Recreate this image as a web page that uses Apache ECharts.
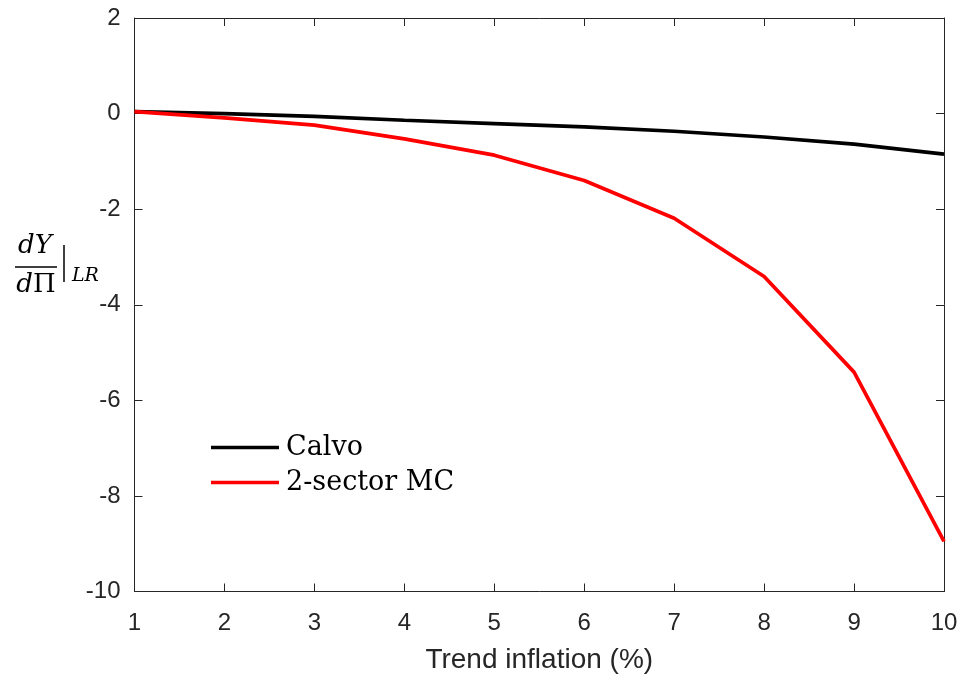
<!DOCTYPE html>
<html><head><meta charset="utf-8">
<script src="https://cdn.jsdelivr.net/npm/echarts@6/dist/echarts.min.js"></script>
<style>html,body{margin:0;padding:0;background:#fff}#c{width:963px;height:684px}</style>
</head><body><div id="c"></div>
<script>
const xValues = [1, 2, 3, 4, 5, 6, 7, 8, 9, 10];
const calvo = [0.04, 0.0, -0.06, -0.14, -0.21, -0.28, -0.37, -0.49, -0.64, -0.85];
const twoSector = [0.04, -0.09, -0.24, -0.53, -0.87, -1.40, -2.19, -3.41, -5.41, -8.95];
const seriesNames = ['Calvo', '2-sector MC'];
const xTitle = 'Trend inflation (%)';

const chart = echarts.init(document.getElementById('c'), null, {renderer: 'canvas'});
const axisCol = '#262626';
const tickFont = {color: axisCol, fontFamily: 'Liberation Sans, Arial, sans-serif', fontSize: 24};
const toPairs = arr => xValues.map((x, i) => [x, arr[i]]);
chart.setOption({
  animation: false,
  grid: {left: 134.5, right: 19, top: 18, bottom: 92.5},
  legend: {
    orient: 'vertical', left: 206, top: 429, itemGap: 8,
    itemWidth: 68, itemHeight: 3.5, icon: 'rect',
    textStyle: {fontFamily: 'DejaVu Serif, serif', fontSize: 27, color: '#000', padding: [0, 0, 0, 2]},
    data: seriesNames
  },
  xAxis: [{
    type: 'value', min: 1, max: 10, interval: 1, position: 'bottom',
    name: xTitle, nameLocation: 'middle', nameGap: 55,
    nameTextStyle: {color: axisCol, fontFamily: 'Liberation Sans, Arial, sans-serif', fontSize: 28},
    axisLine: {onZero: false, lineStyle: {color: axisCol, width: 1}},
    axisTick: {inside: true, length: 8, lineStyle: {color: axisCol}},
    axisLabel: Object.assign({margin: 20}, tickFont),
    splitLine: {show: false}
  }, {
    type: 'value', min: 1, max: 10, interval: 1, position: 'top',
    axisLine: {onZero: false, lineStyle: {color: axisCol, width: 1}},
    axisTick: {inside: true, length: 8, lineStyle: {color: axisCol}},
    axisLabel: {show: false}, splitLine: {show: false}
  }],
  yAxis: [{
    type: 'value', min: -10, max: 2, interval: 2, position: 'left',
    axisLine: {show: true, onZero: false, lineStyle: {color: axisCol, width: 1}},
    axisTick: {show: true, inside: true, length: 8, lineStyle: {color: axisCol}},
    axisLabel: Object.assign({margin: 14}, tickFont),
    splitLine: {show: false}
  }, {
    type: 'value', min: -10, max: 2, interval: 2, position: 'right',
    axisLine: {show: true, onZero: false, lineStyle: {color: axisCol, width: 1}},
    axisTick: {show: true, inside: true, length: 8, lineStyle: {color: axisCol}},
    axisLabel: {show: false}, splitLine: {show: false}
  }],
  series: [
    {name: seriesNames[0], type: 'line', data: toPairs(calvo), symbol: 'none',
     lineStyle: {color: '#000', width: 3.7}, itemStyle: {color: '#000'}},
    {name: seriesNames[1], type: 'line', data: toPairs(twoSector), symbol: 'none',
     lineStyle: {color: '#ff0000', width: 3.7}, itemStyle: {color: '#ff0000'}}
  ],
  graphic: [
    {type: 'text', x: 35, y: 246, style: {text: 'dY', font: 'italic 26px "DejaVu Serif", serif', fill: '#000', align: 'center', verticalAlign: 'middle'}},
    {type: 'line', shape: {x1: 15, y1: 267, x2: 57, y2: 267}, style: {stroke: '#000', lineWidth: 1.5}},
    {type: 'text', x: 36, y: 285, style: {
      text: '{i|d}{n|Π}', align: 'center', verticalAlign: 'middle', fill: '#000',
      rich: {i: {font: 'italic 26px "DejaVu Serif", serif'}, n: {font: '26px "DejaVu Serif", serif'}}
    }},
    {type: 'line', shape: {x1: 64, y1: 245, x2: 64, y2: 282}, style: {stroke: '#000', lineWidth: 1.5}},
    {type: 'text', x: 72, y: 276, style: {text: 'LR', font: 'italic 19px "DejaVu Serif", serif', fill: '#000', align: 'left', verticalAlign: 'middle'}}
  ]
});
</script></body></html>
